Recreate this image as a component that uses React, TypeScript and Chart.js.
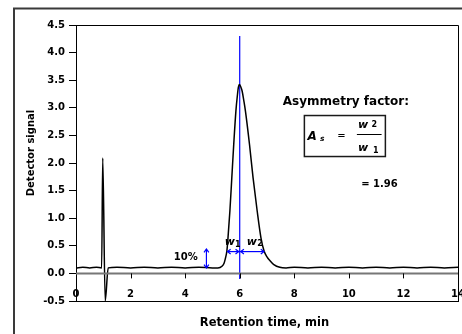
import React, { useEffect, useRef } from "react";
import { Chart, registerables } from "chart.js";

Chart.register(...registerables);

// ---- data ----
const retentionTime = [
  0, 0.25, 0.5, 0.75, 0.94, 0.98, 1.07, 1.18, 1.5, 2.0, 2.5, 3.0, 3.5, 4.0, 4.5, 5.0,
  5.2, 5.35, 5.43, 5.48, 5.53, 5.57, 5.64, 5.71, 5.78, 5.86, 5.92, 5.95, 5.99, 6.03,
  6.09, 6.15, 6.21, 6.36, 6.49, 6.64, 6.78, 6.89, 7.0, 7.11, 7.25, 7.47, 7.7, 8.0,
  8.5, 9.0, 9.5, 10.0, 10.5, 11.0, 11.5, 12.0, 12.5, 13.0, 13.5, 14.0,
];
const detectorSignal = [
  0.1, 0.11, 0.1, 0.11, 0.1, 2.09, -0.5, 0.1, 0.11, 0.1, 0.11, 0.1, 0.11, 0.1, 0.11, 0.1,
  0.1, 0.13, 0.19, 0.28, 0.41, 0.64, 1.13, 1.73, 2.33, 2.94, 3.25, 3.37, 3.42, 3.39,
  3.3, 3.13, 2.94, 2.33, 1.73, 1.13, 0.64, 0.41, 0.3, 0.23, 0.16, 0.11, 0.1, 0.11,
  0.1, 0.11, 0.1, 0.11, 0.1, 0.11, 0.1, 0.11, 0.1, 0.11, 0.1, 0.11,
];
const zeroLineTime = [0, 14];
const zeroLineSignal = [0, 0];

const xTickLabels = ["0", "2", "4", "6", "8", "10", "12", "14"];
const yTickLabels = ["-0.5", "0.0", "0.5", "1.0", "1.5", "2.0", "2.5", "3.0", "3.5", "4.0", "4.5"];

const apexTime = [6.0, 6.0];
const apexMarker = [-0.1, 4.3];
const tenPercentTime = [4.78, 4.78];
const tenPercentSignal = [0.1, 0.44];
const w1Time = [5.55, 6.0];
const w2Time = [6.0, 6.89];
const widthLevel = [0.395, 0.395];

const xTitle = "Retention time, min";
const yTitle = "Detector signal";
const tenPercentLabel = "10%";
const formulaTitle = "Asymmetry factor:";
const asymmetryResult = "= 1.96";

const FONT = '"DejaVu Sans", sans-serif';

const pts = (xs: number[], ys: number[]) => xs.map((x, i) => ({ x, y: ys[i] }));

const decorPlugin = {
  id: "decor",
  afterDraw(chart: any) {
    const { ctx, chartArea: a, scales } = chart;
    const xs = scales.x;
    const ys = scales.y;
    const px = (v: number) => xs.getPixelForValue(v);
    const py = (v: number) => ys.getPixelForValue(v);
    const text = (s: string, x: number, y: number, font: string, align = "left", base = "alphabetic") => {
      ctx.font = font;
      ctx.textAlign = align;
      ctx.textBaseline = base;
      ctx.fillStyle = "#000";
      ctx.fillText(s, x, y);
    };
    ctx.save();

    // outer frame (continues beyond the picture on right/bottom)
    ctx.strokeStyle = "#3a3a3a";
    ctx.lineWidth = 2;
    ctx.beginPath();
    ctx.moveTo(14, chart.height + 4);
    ctx.lineTo(14, 8.5);
    ctx.lineTo(chart.width + 4, 8.5);
    ctx.stroke();

    // plot box top and right
    ctx.strokeStyle = "#000";
    ctx.lineWidth = 1;
    ctx.beginPath();
    ctx.moveTo(Math.round(a.left), Math.round(a.top) + 0.5);
    ctx.lineTo(Math.round(a.right) + 0.5, Math.round(a.top) + 0.5);
    ctx.lineTo(Math.round(a.right) + 0.5, Math.round(a.bottom));
    ctx.stroke();

    // x tick marks hanging from the zero line
    const y0 = py(0);
    ctx.beginPath();
    xs.ticks.forEach((t: any) => {
      if (t.value > xs.min && t.value < xs.max) {
        const xx = Math.round(px(t.value)) + 0.5;
        ctx.moveTo(xx, y0);
        ctx.lineTo(xx, y0 + 5);
      }
    });
    ctx.stroke();

    // arrow heads
    ctx.strokeStyle = "#0000ff";
    ctx.lineWidth = 1.2;
    const head = (x: number, y: number, dir: string) => {
      const s = 3.2, w = 2.4;
      ctx.beginPath();
      if (dir === "up") { ctx.moveTo(x - w, y + s); ctx.lineTo(x, y); ctx.lineTo(x + w, y + s); }
      if (dir === "down") { ctx.moveTo(x - w, y - s); ctx.lineTo(x, y); ctx.lineTo(x + w, y - s); }
      if (dir === "left") { ctx.moveTo(x + s, y - w); ctx.lineTo(x, y); ctx.lineTo(x + s, y + w); }
      if (dir === "right") { ctx.moveTo(x - s, y - w); ctx.lineTo(x, y); ctx.lineTo(x - s, y + w); }
      ctx.stroke();
    };
    head(px(tenPercentTime[0]), py(tenPercentSignal[1]), "up");
    head(px(tenPercentTime[0]), py(tenPercentSignal[0]), "down");
    head(px(w1Time[0]), py(widthLevel[0]), "left");
    head(px(w1Time[1]) - 1, py(widthLevel[0]), "right");
    head(px(w2Time[0]) + 1, py(widthLevel[0]), "left");
    head(px(w2Time[1]), py(widthLevel[0]), "right");

    // labels near the peak
    text(tenPercentLabel, px(4.02), py(0.29), `bold 10px ${FONT}`, "center", "middle");
    const wy = py(widthLevel[0]);
    const w1x = px(w1Time[0]) - 2.7;
    text("w", w1x, wy - 7, `italic bold 11px ${FONT}`);
    text("1", w1x + 10.3, wy - 5, `bold 8px ${FONT}`);
    const w2x = px(w2Time[0]) + 7;
    text("w", w2x, wy - 7, `italic bold 11px ${FONT}`);
    text("2", w2x + 10.6, wy - 5.5, `bold 8px ${FONT}`);

    // asymmetry formula box
    const bx = px(8.37);
    const by = py(2.86);
    text(formulaTitle, bx + 41.5, by - 11, `bold 12px ${FONT}`, "center");
    ctx.strokeStyle = "#1a1a1a";
    ctx.lineWidth = 1.5;
    ctx.strokeRect(bx, by, 81, 41);
    text("A", bx + 3.2, by + 24.5, `italic bold 12px ${FONT}`);
    text("s", bx + 15.5, by + 25, `italic bold 7.5px ${FONT}`);
    text("=", bx + 37, by + 20.5, `10px ${FONT}`, "center", "middle");
    text("w", bx + 53.5, by + 12.8, `italic bold 11px ${FONT}`);
    text("2", bx + 67.2, by + 11.8, `bold 8px ${FONT}`);
    ctx.strokeStyle = "#000";
    ctx.lineWidth = 1;
    ctx.beginPath();
    ctx.moveTo(bx + 52.5, Math.round(by + 18.8) + 0.5);
    ctx.lineTo(bx + 77.2, Math.round(by + 18.8) + 0.5);
    ctx.stroke();
    text("w", bx + 53.5, by + 35.2, `italic bold 11px ${FONT}`);
    text("1", bx + 68.5, by + 37.8, `bold 8px ${FONT}`);
    text(asymmetryResult, px(11.12), py(1.614), `bold 10px ${FONT}`, "center", "middle");

    // axis titles
    text(xTitle, (a.left + a.right) / 2 - 2.5, a.bottom + 24.5, `bold 11.5px ${FONT}`, "center");
    ctx.save();
    ctx.translate(34, (a.top + a.bottom) / 2 - 10);
    ctx.rotate(-Math.PI / 2);
    text(yTitle, 0, 0, `bold 10px ${FONT}`, "center");
    ctx.restore();

    ctx.restore();
  },
};

export default function App() {
  const ref = useRef<HTMLCanvasElement>(null);
  useEffect(() => {
    if (!ref.current) return;
    const chart = new Chart(ref.current, {
      type: "line",
      data: {
        datasets: [
          {
            data: pts(zeroLineTime, zeroLineSignal),
            borderColor: "#777777",
            borderWidth: 2,
            pointRadius: 0,
          },
          {
            data: pts(retentionTime, detectorSignal),
            borderColor: "#000000",
            borderWidth: 1.5,
            pointRadius: 0,
            cubicInterpolationMode: "monotone",
          },
          {
            data: pts(apexTime, apexMarker),
            borderColor: "#0000ff",
            borderWidth: 1.2,
            pointRadius: 0,
            clip: false,
          },
          {
            data: pts(tenPercentTime, tenPercentSignal),
            borderColor: "#0000ff",
            borderWidth: 1.2,
            pointRadius: 0,
          },
          {
            data: pts(w1Time, widthLevel),
            borderColor: "#0000ff",
            borderWidth: 1.2,
            pointRadius: 0,
          },
          {
            data: pts(w2Time, widthLevel),
            borderColor: "#0000ff",
            borderWidth: 1.2,
            pointRadius: 0,
          },
        ],
      },
      options: {
        responsive: false,
        animation: false,
        devicePixelRatio: 1,
        layout: { padding: { left: 0, right: 4, top: 25, bottom: 0 } },
        plugins: { legend: { display: false }, tooltip: { enabled: false } },
        scales: {
          x: {
            type: "linear",
            min: 0,
            max: 14,
            afterFit: (s: any) => {
              s.height = 33;
              s.paddingLeft = 0;
              s.paddingRight = 0;
            },
            ticks: {
              stepSize: 2,
              mirror: true,
              padding: 1,
              autoSkip: false,
              maxRotation: 0,
              color: "#000",
              font: { family: FONT, size: 10, weight: "bold" },
              callback: (_v: any, i: number) => xTickLabels[i],
            },
            grid: { display: false },
            border: { display: true, color: "#000", width: 1 },
          },
          y: {
            min: -0.5,
            max: 4.5,
            afterFit: (s: any) => {
              s.width = 76;
              s.paddingTop = 0;
              s.paddingBottom = 0;
            },
            ticks: {
              stepSize: 0.5,
              padding: 4,
              color: "#000",
              font: { family: FONT, size: 10, weight: "bold" },
              callback: (_v: any, i: number) => yTickLabels[i],
            },
            grid: { drawOnChartArea: false, drawTicks: true, tickLength: 7, color: "#000" },
            border: { display: true, color: "#000", width: 1 },
          },
        },
      },
      plugins: [decorPlugin],
    } as any);
    return () => chart.destroy();
  }, []);
  return (
    <div style={{ position: "absolute", left: 0, top: 0, width: 462, height: 334, background: "#fff" }}>
      <canvas ref={ref} width={462} height={334} style={{ display: "block" }} />
    </div>
  );
}
